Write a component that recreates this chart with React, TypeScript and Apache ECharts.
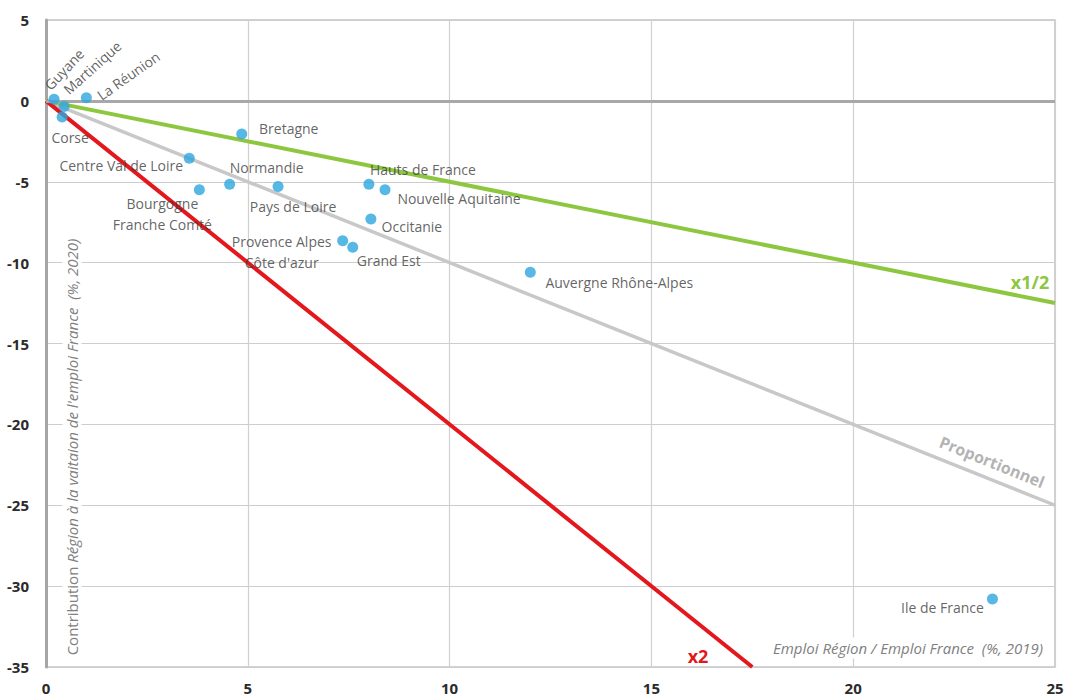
import React, { useEffect, useRef } from "react";
import * as echarts from "echarts";

// ---- Data ----
const regions = [
  "Guyane",
  "Martinique",
  "La Réunion",
  "Corse",
  "Centre Val de Loire",
  "Bourgogne\nFranche Comté",
  "Bretagne",
  "Normandie",
  "Pays de Loire",
  "Hauts de France",
  "Nouvelle Aquitaine",
  "Occitanie",
  "Provence Alpes\nCôte d'azur",
  "Grand Est",
  "Auvergne Rhône-Alpes",
  "Ile de France",
];
const emploiShare = [0.2, 0.45, 1.0, 0.4, 3.55, 3.8, 4.85, 4.55, 5.75, 8.0, 8.4, 8.05, 7.35, 7.6, 12.0, 23.45];
const contribution = [0.1, -0.35, 0.2, -1.0, -3.55, -5.5, -2.05, -5.15, -5.3, -5.15, -5.5, -7.3, -8.65, -9.05, -10.6, -30.8];

// reference lines (x, y) endpoints
const halfLine = [[0, 0], [25, -12.5]];
const propLine = [[0, 0], [25, -25]];
const doubleLine = [[0, 0], [17.5, -35]];

const xTicks = [0, 5, 10, 15, 20, 25];
const yTicks = [5, 0, -5, -10, -15, -20, -25, -30, -35];

// ---- Label styling (screen offsets from dot, px; rotation deg) ----
const labelStyle: Record<string, [number, number, number?]> = {
  Guyane: [10, -30, 47],
  Martinique: [28, -39, 42],
  "La Réunion": [42, -22, 35],
  Corse: [8, 20],
  "Centre Val de Loire": [-68, 7],
  "Bourgogne\nFranche Comté": [-37, 24],
  Bretagne: [47, -6],
  Normandie: [37, -17],
  "Pays de Loire": [15, 20],
  "Hauts de France": [54, -15],
  "Nouvelle Aquitaine": [74, 9],
  Occitanie: [41, 8],
  "Provence Alpes\nCôte d'azur": [-61, 11],
  "Grand Est": [36, 13],
  "Auvergne Rhône-Alpes": [89, 10],
  "Ile de France": [-50, 8],
};

const FONT = "'Open Sans', 'Noto Sans', sans-serif";
const TXT = "#3b3b3b";

function localOffset(dx: number, dy: number, deg: number): [number, number] {
  const t = (deg * Math.PI) / 180;
  const c = Math.cos(t);
  const s = Math.sin(t);
  return [dx * c - dy * s, dx * s + dy * c];
}

export default function App() {
  const ref = useRef<HTMLDivElement>(null);
  useEffect(() => {
    if (!ref.current) return;
    const chart = echarts.init(ref.current, undefined, { renderer: "svg" });

    const scatterData = regions.map((name, i) => {
      const st = labelStyle[name] || [10, 0];
      const rot = st[2] || 0;
      const off = rot ? localOffset(st[0], st[1], rot) : [st[0], st[1]];
      return {
        name,
        value: [emploiShare[i], contribution[i]],
        label: {
          show: true,
          position: "inside",
          formatter: "{b}",
          offset: off,
          rotate: rot,
          align: "center",
          verticalAlign: "middle",
          color: TXT,
          fontSize: 14,
          lineHeight: 21,
          fontFamily: FONT,
          textBorderWidth: 0,
        },
      };
    });

    const option: any = {
      animation: false,
      backgroundColor: "#ffffff",
      grid: {
        left: 46,
        right: 12,
        top: 20,
        bottom: 33,
        containLabel: false,
        show: true,
        borderColor: "#c4c4c4",
        borderWidth: 1.5,
      },
      xAxis: {
        type: "value",
        min: 0,
        max: 25,
        interval: 5,
        axisLine: { show: true, lineStyle: { color: "#d9d9d9", width: 1.5 } },
        axisTick: { show: false },
        axisLabel: {
          color: "#2b2b2b",
          fontWeight: "bold",
          fontSize: 15,
          fontFamily: FONT,
          margin: 13,
          formatter: (v: number) => (xTicks.includes(v) ? String(v) : ""),
        },
        splitLine: { show: true, lineStyle: { color: "#d0d0d0", width: 1.2 } },
      },
      yAxis: {
        type: "value",
        min: -35,
        max: 5,
        interval: 5,
        axisLine: { show: true, onZero: false, lineStyle: { color: "#a6a6a6", width: 3 } },
        axisTick: { show: false },
        axisLabel: {
          color: "#2b2b2b",
          fontWeight: "bold",
          fontSize: 15,
          fontFamily: FONT,
          margin: 17,
          formatter: (v: number) => (yTicks.includes(v) ? String(v) : ""),
        },
        splitLine: { show: true, lineStyle: { color: "#cdcdcd", width: 1.2 } },
      },
      series: [
        {
          type: "line",
          data: propLine,
          symbol: "none",
          silent: true,
          z: 2,
          lineStyle: { color: "#c8c8c8", width: 3.5 },
          markLine: {
            silent: true,
            symbol: "none",
            label: { show: false },
            lineStyle: { color: "#a8a8a8", width: 3, type: "solid" },
            data: [{ yAxis: 0 }],
          },
        },
        {
          type: "line",
          data: halfLine,
          symbol: "none",
          silent: true,
          z: 3,
          lineStyle: { color: "#8dc63f", width: 4 },
        },
        {
          type: "line",
          data: doubleLine,
          symbol: "none",
          silent: true,
          z: 3,
          lineStyle: { color: "#e3171c", width: 4 },
        },
        {
          type: "scatter",
          data: scatterData,
          symbolSize: 11,
          z: 5,
          itemStyle: { color: "#2ea6df" },
        },
      ],
      graphic: [
        {
          type: "text",
          x: 908,
          y: 648,
          z: 1,
          style: {
            text: "Emploi Région / Emploi France  (%, 2019)",
            fontStyle: "italic",
            fontSize: 15,
            fontFamily: FONT,
            fill: "#808080",
            align: "center",
            verticalAlign: "middle",
            backgroundColor: "#ffffff",
            padding: [3, 4],
          },
        },
        {
          type: "text",
          x: 72,
          y: 447,
          rotation: Math.PI / 2,
          z: 1,
          style: {
            text: "{a|Contribution }{b|Région à la vaitaion de l'emploi France  (%, 2020)}",
            rich: {
              a: { fontSize: 15, fontFamily: FONT, fill: "#808080" },
              b: { fontSize: 15, fontFamily: FONT, fill: "#808080", fontStyle: "italic" },
            },
            align: "center",
            verticalAlign: "middle",
            backgroundColor: "#ffffff",
            padding: [2, 4],
          },
        },
        {
          type: "text",
          x: 1030,
          y: 282,
          z: 10,
          style: {
            text: "x1/2",
            fontSize: 18,
            fontWeight: "bold",
            fontFamily: FONT,
            fill: "#8dc63f",
            align: "center",
            verticalAlign: "middle",
          },
        },
        {
          type: "text",
          x: 992,
          y: 462,
          rotation: (-22 * Math.PI) / 180,
          z: 10,
          style: {
            text: "Proportionnel",
            fontSize: 16,
            fontWeight: "bold",
            fontFamily: FONT,
            fill: "#b3b3b3",
            align: "center",
            verticalAlign: "middle",
          },
        },
        {
          type: "text",
          x: 698,
          y: 656,
          z: 10,
          style: {
            text: "x2",
            fontSize: 18,
            fontWeight: "bold",
            fontFamily: FONT,
            fill: "#e3171c",
            align: "center",
            verticalAlign: "middle",
          },
        },
      ],
    };
    chart.setOption(option);
    return () => chart.dispose();
  }, []);
  return (
    <div
      ref={ref}
      style={{ position: "fixed", left: 0, top: 0, width: 1067, height: 700 }}
    />
  );
}
